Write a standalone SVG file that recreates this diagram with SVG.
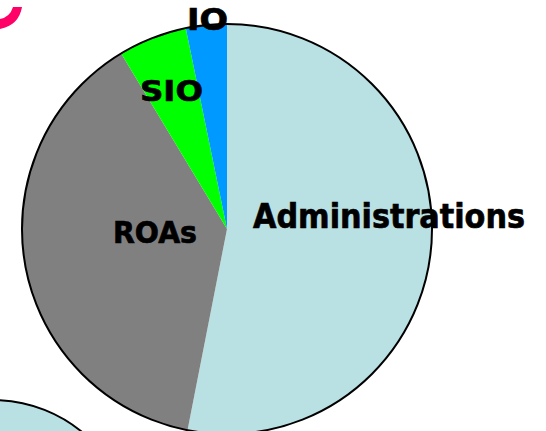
<svg xmlns="http://www.w3.org/2000/svg" width="546" height="431" viewBox="0 0 546 431">
<style>
.lbl{font-family:"Comic Sans MS","DejaVu Sans",sans-serif;font-weight:bold;fill:#000;stroke:#000;stroke-width:0.7;}
.slice{stroke:none;}
.rim{fill:none;stroke:#000;stroke-width:2;}
</style>
<rect width="546" height="431" fill="#fff"/>
<path d="M 0 19 Q 10 17 13 7 L 22 7 Q 19 25 0 29 Z" fill="#ff0066"/>
<g id="bottom-circle">
<circle cx="-7" cy="540" r="140" fill="#b9e0e3" stroke="#000" stroke-width="2"/>
</g>
<g id="pie">
<g id="admin"><path class="slice" d="M 227 229 L 227 24 A 205 205 0 1 1 187.5 430.2 Z" fill="#b9e0e3"/></g>
<g id="roas"><path class="slice" d="M 227 229 L 187.5 430.2 A 205 205 0 0 1 121.1 53.5 Z" fill="#808080"/></g>
<g id="sio"><path class="slice" d="M 227 229 L 121.1 53.5 A 205 205 0 0 1 185.8 28.2 Z" fill="#00ff00"/></g>
<g id="io"><path class="slice" d="M 227 229 L 185.8 28.2 A 205 205 0 0 1 227 24 Z" fill="#0099ff"/></g>
<circle class="rim" cx="227" cy="229" r="205"/>
</g>
<text class="lbl" x="253" y="228" font-size="34" textLength="272" lengthAdjust="spacingAndGlyphs">Administrations</text>
<text class="lbl" x="113" y="243" font-size="30" textLength="84" lengthAdjust="spacingAndGlyphs">ROAs</text>
<text class="lbl" x="140" y="101" font-size="29" textLength="63" lengthAdjust="spacingAndGlyphs">SIO</text>
<text class="lbl" x="187" y="30" font-size="30" textLength="41" lengthAdjust="spacingAndGlyphs">IO</text>
</svg>
